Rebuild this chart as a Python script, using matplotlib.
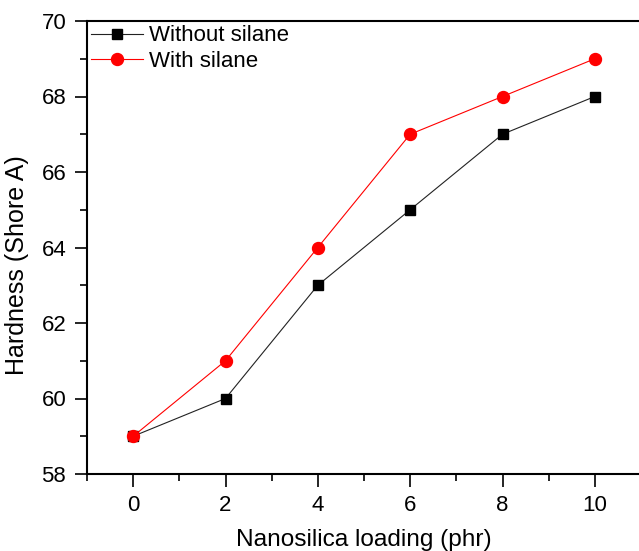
import matplotlib as mplt
mplt.use("Agg")
import matplotlib.pyplot as plt
from matplotlib.ticker import MultipleLocator

loading = [0, 2, 4, 6, 8, 10]
hard_without = [59, 60, 63, 65, 67, 68]
hard_with = [59, 61, 64, 67, 68, 69]

plt.rcParams['font.family'] = ['Liberation Sans', 'DejaVu Sans']

fig = plt.figure(figsize=(6.39, 5.51), dpi=100)
ax = fig.add_axes([87 / 639, 1 - 474 / 551, 554 / 639, 453 / 551])

ax.plot(loading, hard_without, color='#222222', lw=0.8, marker='s', ms=6.8,
        mfc='black', mec='black', label='Without silane')
ax.plot(loading, hard_with, color='red', lw=0.8, marker='o', ms=8.6,
        mfc='red', mec='red', label='With silane')

ax.set_xlim(-1, 11)
ax.set_ylim(58, 70)
ax.xaxis.set_major_locator(MultipleLocator(2))
ax.xaxis.set_minor_locator(MultipleLocator(1))
ax.yaxis.set_major_locator(MultipleLocator(2))
ax.yaxis.set_minor_locator(MultipleLocator(1))
ax.tick_params(which='major', direction='out', length=9, width=1.2, labelsize=16, pad=6)
ax.tick_params(which='minor', direction='out', length=5, width=1.2)
for s in ax.spines.values():
    s.set_linewidth(1.5)

ax.set_xlabel('Nanosilica loading (phr)', fontsize=17.6)
ax.set_ylabel('Hardness (Shore A)', fontsize=18)
ax.xaxis.set_label_coords(0.5, -0.122)
ax.yaxis.set_label_coords(-0.105, 0.46)

ax.legend(loc='upper left', frameon=False, fontsize=16, handlelength=2.3,
          handletextpad=0.3, borderaxespad=0.05, labelspacing=0.2,
          borderpad=0.15)

fig.savefig('out.png', dpi=100)
